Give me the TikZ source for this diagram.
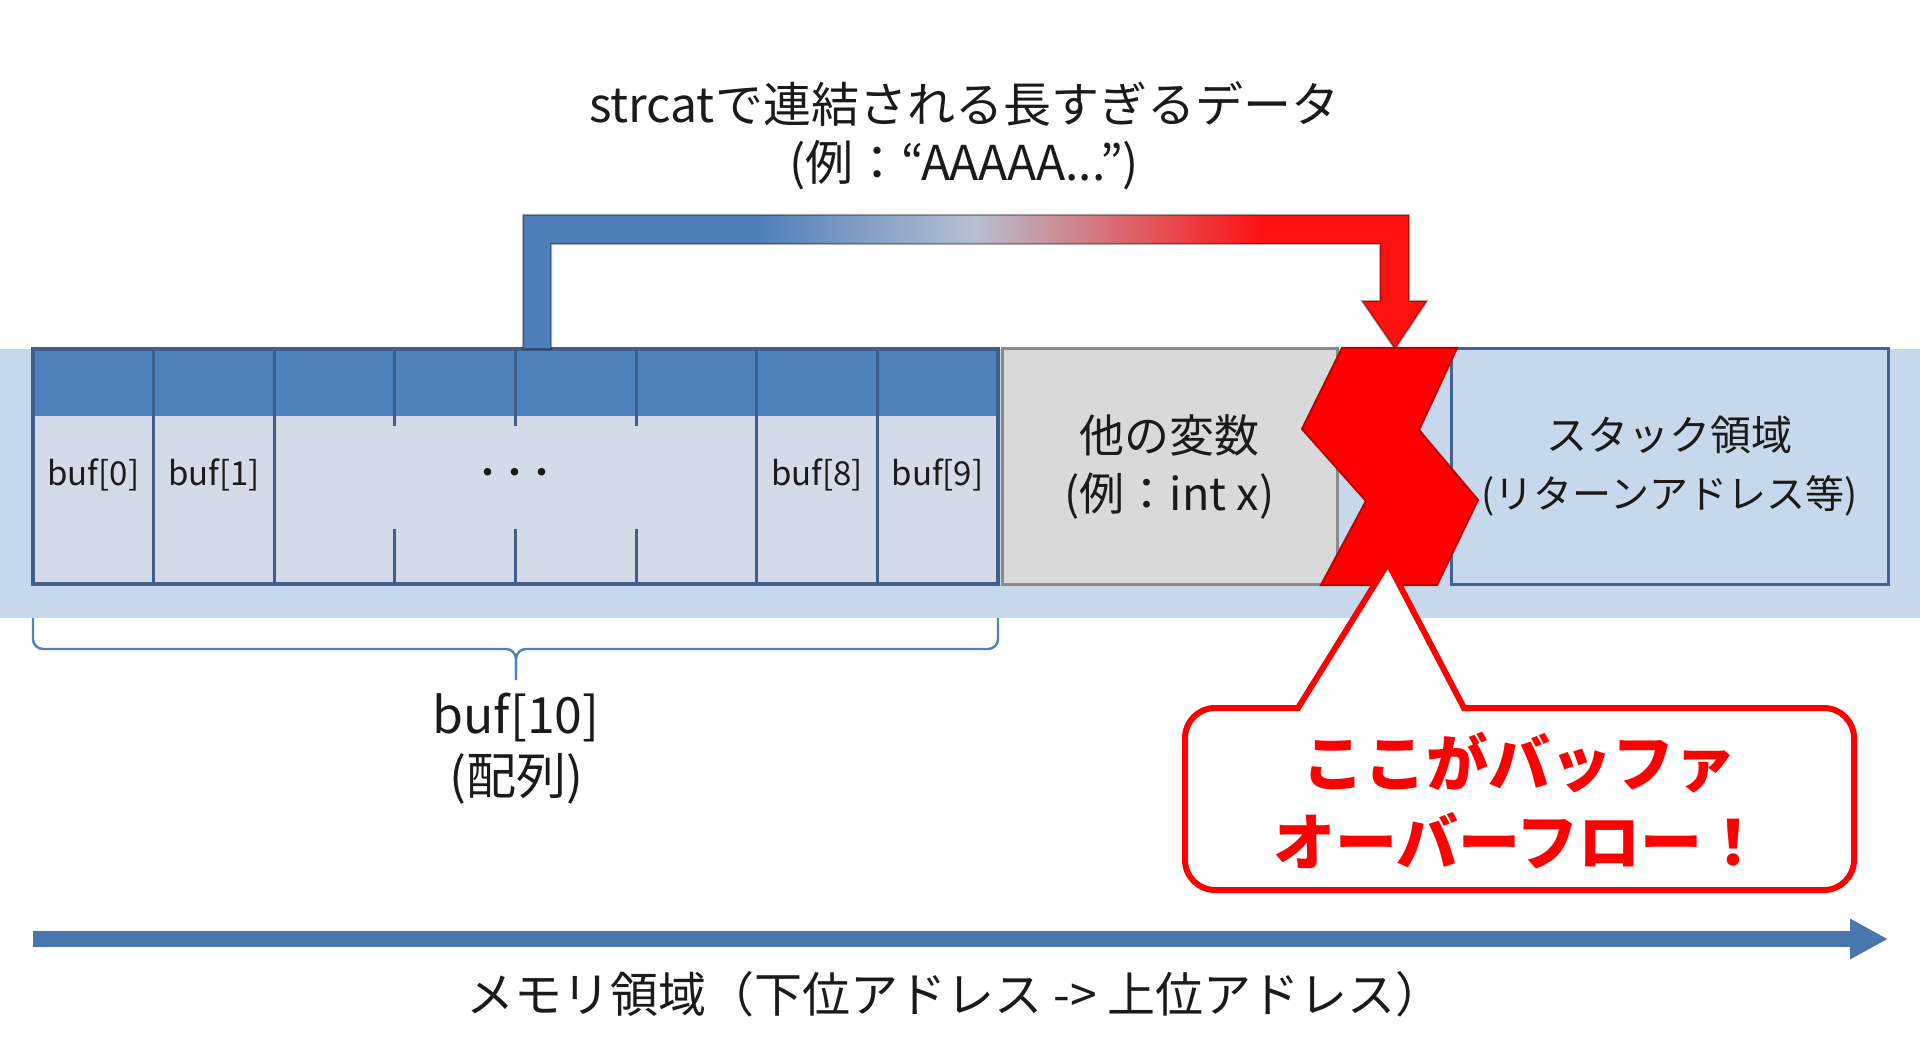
\documentclass[tikz,border=0pt]{standalone}
\usepackage{fontspec}
\setmainfont{Noto Sans CJK JP}
\usetikzlibrary{arrows.meta}

\definecolor{bandblue}{HTML}{C7D7EC}
\definecolor{cellfill}{HTML}{D3DAE8}
\definecolor{headblue}{HTML}{4F81BD}
\definecolor{cellline}{HTML}{3F5F8A}
\definecolor{otherfill}{HTML}{D9D9D9}
\definecolor{otherline}{HTML}{8A8A8A}
\definecolor{stackfill}{HTML}{C7D7EC}
\definecolor{stackline}{HTML}{41658F}
\definecolor{boltred}{HTML}{FF0000}
\definecolor{boltline}{HTML}{C00000}
\definecolor{flowblue}{HTML}{4F7FBA}
\definecolor{flowmid}{HTML}{B7C0D0}
\definecolor{flowred}{HTML}{FF1010}
\definecolor{axisblue}{HTML}{4A76AE}
\definecolor{textcol}{HTML}{1A1A1A}

\pgfdeclarehorizontalshading{flowshade}{100bp}{color(0bp)=(flowblue); color(25bp)=(flowblue); color(38bp)=(flowblue); color(50bp)=(flowmid); color(66bp)=(flowred); color(75bp)=(flowred); color(100bp)=(flowred)}

\begin{document}
\begin{tikzpicture}[x=0.5pt,y=-0.5pt,
    divider/.style={draw=cellline,line width=1.5pt},
    cellname/.style={text=textcol,font=\fontsize{16.5}{18}\selectfont},
    boxtext/.style={align=center,text=textcol,font=\fontsize{22.5}{29}\selectfont,line width=1.5pt,minimum height=117.5pt},
    bigtext/.style={align=center,text=textcol,font=\fontsize{24}{29}\selectfont},
    memaxis/.style={draw=axisblue,line width=8pt,-{Triangle[length=19pt,width=19pt]}}]
    \useasboundingbox (0,0) rectangle (1920,1047);

    % memory band
    \fill[bandblue] (0,349) rectangle (1920,618);

    % buffer cells
    \fill[cellfill] (33,349) rectangle (998,584);
    \fill[headblue] (33,349) rectangle (998,416);
    \foreach \i in {1,2,6,7}
        \draw[divider] (33+120.6*\i,349) -- (33+120.6*\i,584);
    \foreach \i in {3,4,5} {
        \draw[divider] (33+120.6*\i,349) -- (33+120.6*\i,426);
        \draw[divider] (33+120.6*\i,529) -- (33+120.6*\i,584);
    }
    \draw[cellline,line width=2pt] (33,349) rectangle (998,584);

    % cell labels
    \node[cellname] (b0) at (93.3,475) {buf[0]};
    \node[cellname] (b1) at (213.9,475) {buf[1]};
    \node[cellname,font=\fontsize{13.5}{14}\selectfont\bfseries] (dots) at (515.4,475) {・・・};
    \node[cellname] (b8) at (816.9,475) {buf[8]};
    \node[cellname] (b9) at (937.5,475) {buf[9]};

    % other variable and stack
    \node[boxtext,fill=otherfill,draw=otherline,minimum width=167.5pt] (other) at (1169.5,466.5) {他の変数\\(例：int x)};
    \node[boxtext,fill=stackfill,draw=stackline,minimum width=218.5pt,font=\fontsize{19.5}{29}\selectfont] (stack) at (1669.5,466.5) {\fontsize{20.5}{29}\selectfont スタック領域\\(リターンアドレス等)};

    % overflowing data
    \shadedraw[shading=flowshade,draw=black,draw opacity=0.3,line width=1pt]
        (523,349) -- (523,215) -- (1409,215) -- (1409,301) -- (1427,301) -- (1395,349)
        -- (1362,301) -- (1380,301) -- (1380,244) -- (551,244) -- (551,349) -- cycle;
    \node[bigtext] (title) at (964,136) {strcatで連結される長すぎるデータ\\(例：“AAAAA...”)};

    % the break
    \filldraw[fill=boltred,draw=boltline,line width=1pt]
        (1342,348) -- (1302,429) -- (1366,501) -- (1321,585) -- (1437,585) -- (1478,500) -- (1419,430) -- (1457,348) -- cycle;

    % callout
    \coordinate (tip) at (1388,563);
    \draw[draw=boltred,line width=3pt,fill=white] (tip) -- (1464,708) [rounded corners=15pt] -- (1854,708) -- (1854,890) -- (1185,890) -- (1185,708) [sharp corners] -- (1298,708) -- cycle;
    \node[text=boltred,align=center,font=\fontsize{31}{39.5}\selectfont\bfseries] (overflow) at (1519,801) {ここがバッファ\\オーバーフロー！};

    % brace under the buffer
    \draw[headblue,line width=1.2pt,rounded corners=5pt] (33,618) -- (33,649) -- (516,649) -- (516,680);
    \draw[headblue,line width=1.2pt,rounded corners=5pt] (998,618) -- (998,649) -- (516,649) -- (516,680);
    \node[bigtext,font=\fontsize{25}{30.5}\selectfont] (bufname) at (516,749) {buf[10]\\(配列)};

    % address axis
    \coordinate (memL) at (33,939);
    \coordinate (memR) at (1888,939);
    \draw[memaxis] (memL) -- (memR);
    \node[bigtext,font=\fontsize{24}{28}\selectfont] (memlabel) at (955,994) {メモリ領域（下位アドレス -> 上位アドレス）};
\end{tikzpicture}
\end{document}
